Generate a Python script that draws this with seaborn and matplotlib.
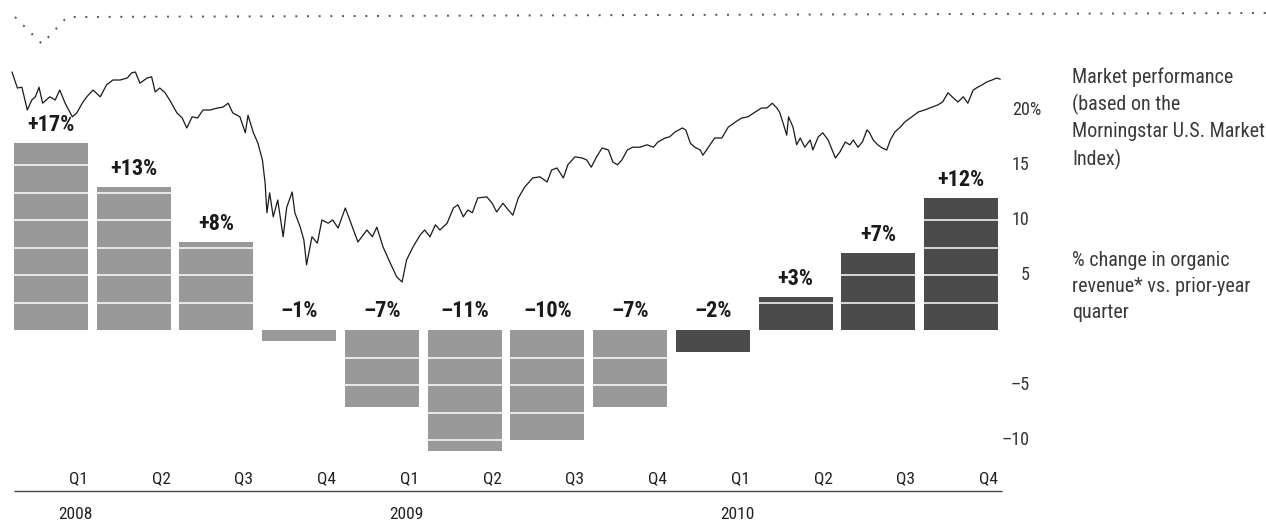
import numpy as np
import pandas as pd
import matplotlib
matplotlib.use('Agg')
import matplotlib.pyplot as plt
import seaborn as sns
from matplotlib.lines import Line2D

# datos: variación del ingreso orgánico por trimestre
quarters = ['Q1', 'Q2', 'Q3', 'Q4'] * 3
years = ['2008', '2009', '2010']
revenue = [17, 13, 8, -1, -7, -11, -10, -7, -2, 3, 7, 12]
bar_labels = ['+17%', '+13%', '+8%', '–1%', '–7%', '–11%', '–10%', '–7%',
              '–2%', '+3%', '+7%', '+12%']
bar_colors = ['#999999'] * 8 + ['#4b4b4b'] * 4

ytick_vals = [20, 15, 10, 5, -5, -10]
ytick_labels = ['20%', '15', '10', '5', '–5', '–10']

# índice de mercado, días desde 1 ene 2008, nivel relativo
mkt_day = [0, 6, 11, 17, 22, 26, 30, 34, 42, 48, 53, 59, 67, 72, 78, 83, 90, 98, 105, 112,
           120, 128, 133, 137, 142, 150, 155, 159, 164, 170, 175, 183, 189, 194, 200, 206, 212, 220, 228, 234,
           240, 245, 253, 259, 262, 268, 273, 278, 281, 283, 286, 290, 295, 301, 305, 311, 314, 320, 324, 327,
           333, 339, 344, 351, 356, 362, 370, 375, 384, 394, 400, 405, 412, 420, 427, 433, 438, 445, 453,
           458, 464, 470, 475, 483, 490, 495, 501, 506, 511, 517, 527, 533, 538, 545, 551, 556, 562, 569, 578,
           586, 594, 599, 605, 612, 617, 625, 633, 638, 643, 649, 655, 662, 667, 672, 677, 683, 689, 697, 705,
           712, 717, 725, 730, 736, 744, 748, 753, 758, 764, 767, 773, 780, 788, 795, 803, 810, 817, 825, 832,
           838, 844, 849, 852, 856, 860, 862, 867, 871, 875, 880, 886, 889, 895, 900, 906, 914, 919, 925, 930,
           934, 939, 944, 949, 952, 956, 961, 966, 971, 975, 980, 986, 991, 999, 1006, 1013, 1021, 1028, 1033, 1039,
           1045, 1050, 1056, 1061, 1067, 1072, 1077, 1082, 1088, 1093, 1097]
mkt_level = [100.0, 96.0, 96.2, 90.5, 93.0, 93.8, 96.2, 92.2, 93.8, 93.0, 95.5, 92.2, 88.8, 89.8, 92.2, 93.8, 95.5, 93.8, 96.8, 98.0,
             98.0, 98.5, 99.8, 100.0, 97.2, 98.5, 98.8, 95.0, 96.0, 94.8, 93.0, 89.8, 88.5, 86.0, 88.8, 88.5, 90.5, 90.5, 91.0, 91.2,
             92.2, 89.8, 88.8, 84.8, 89.2, 84.8, 82.2, 78.0, 72.2, 64.8, 69.8, 63.8, 68.0, 58.8, 66.2, 70.0, 64.8, 61.2, 58.0, 51.8,
             58.8, 57.2, 63.0, 62.2, 63.0, 61.0, 66.0, 63.0, 57.5, 60.5, 58.8, 61.2, 56.2, 52.2, 48.8, 47.5, 53.0, 56.2, 59.2,
             60.5, 58.8, 61.8, 60.5, 62.2, 66.0, 66.8, 63.8, 65.5, 64.8, 68.5, 68.8, 67.2, 65.0, 67.2, 65.5, 64.2, 68.5, 71.2, 73.5,
             73.8, 72.5, 75.5, 76.0, 73.5, 76.8, 78.8, 78.5, 78.0, 76.2, 78.8, 81.0, 80.5, 77.5, 76.8, 78.0, 80.5, 81.2, 81.2, 81.8,
             81.2, 82.5, 83.5, 83.8, 85.0, 86.0, 85.5, 82.2, 81.2, 80.5, 79.2, 81.2, 83.5, 83.5, 86.2, 87.5, 88.5, 88.8, 90.0, 91.0,
             91.0, 92.2, 91.0, 90.0, 87.2, 84.2, 88.8, 86.2, 81.8, 83.5, 81.2, 83.0, 80.5, 83.8, 84.8, 83.0, 78.5, 80.0, 82.5, 81.8,
             83.0, 81.2, 82.5, 85.5, 84.8, 83.0, 81.8, 81.0, 80.5, 83.0, 85.0, 86.2, 87.5, 88.8, 90.0, 90.5, 91.2, 91.8, 92.5, 94.8,
             93.5, 92.5, 93.8, 92.2, 95.5, 96.2, 96.8, 97.5, 98.0, 98.5, 98.2]

df = pd.DataFrame({'period': [f'{years[i // 4]} {q}' for i, q in enumerate(quarters)],
                   'revenue': revenue})
start = pd.Timestamp('2008-01-01')
mkt = pd.DataFrame({'date': start + pd.to_timedelta(mkt_day, unit='D'), 'level': mkt_level})

sns.set_theme(style='white')
# fuente condensada si existe; si no, DejaVu
plt.rcParams['font.family'] = ['Liberation Sans Narrow', 'Roboto Condensed',
                               'DejaVu Sans Condensed', 'DejaVu Sans']
plt.rcParams['font.stretch'] = 'condensed'

fig = plt.figure(figsize=(12.66, 5.22), dpi=100)
ax = fig.add_axes([0, 0, 1, 1])
w = 0.894

sns.barplot(data=df, x='period', y='revenue', hue='period', palette=bar_colors,
            width=w, saturation=1, legend=False, ax=ax, edgecolor='none')
ax.set_xlim(-0.616, 14.686)
ax.set_ylim(-17.45, 30.0)
ax.axis('off')

# líneas blancas cada 2,5 puntos dentro de las barras
for i, v in enumerate(revenue):
    for s in np.arange(2.5, abs(v) - 0.3, 2.5):
        ax.hlines(np.sign(v) * s, i - w / 2, i + w / 2, color='white', lw=1.1, zorder=3)

# etiquetas de las barras
for i, (v, lab) in enumerate(zip(revenue, bar_labels)):
    yy = v + 1.6 if v > 0 else 1.75
    ax.text(i, yy, lab, ha='center', va='center', fontsize=16, fontweight='bold', color='#1a1a1a')

# eje de tiempo
for i, q in enumerate(quarters):
    ax.text(i + w / 2, -13.5, q, ha='right', va='center', fontsize=12.5, color='#222222')
ax.hlines(-14.6, -w / 2, len(revenue) - 1 + w / 2 + 0.05, color='#444444', lw=1)
for j, y in enumerate(years):
    ax.text(4 * j + 0.3, -16.8, y, ha='center', va='center', fontsize=12.5, color='#222222')

# etiquetas del eje y (derecha)
for v, lab in zip(ytick_vals, ytick_labels):
    if '%' in lab:
        ax.text(11.62, v, lab, ha='left', va='center', fontsize=13, color='#333333')
    else:
        ax.text(11.83, v, lab, ha='right', va='center', fontsize=13, color='#333333')

ax.text(12.34, 23.9, 'Market performance\n(based on the\nMorningstar U.S. Market\nIndex)',
        ha='left', va='top', fontsize=14.5, linespacing=1.46, color='#3a3a3a')
ax.text(12.34, 7.2, '% change in organic\nrevenue* vs. prior-year\nquarter',
        ha='left', va='top', fontsize=14.5, linespacing=1.46, color='#3a3a3a')

# línea del mercado en su propio eje
axm = fig.add_axes([0, 0, 1, 1], frameon=False)
sns.lineplot(data=mkt, x='date', y='level', ax=axm, color='#1a1a1a', lw=0.9)
axm.set_xlim(start + pd.Timedelta(days=-13.3), start + pd.Timedelta(days=1392))
axm.set_ylim(-12.5, 118)
axm.axis('off')

# marco punteado superior
px = np.array([15, 42, 67, 1266])
py = np.array([17, 44, 17, 13])
fig.add_artist(Line2D(px / 1266, 1 - py / 522, transform=fig.transFigure,
                      ls=(0, (1, 5)), lw=1.4, color='#555555'))

fig.savefig('out.png', dpi=100)
